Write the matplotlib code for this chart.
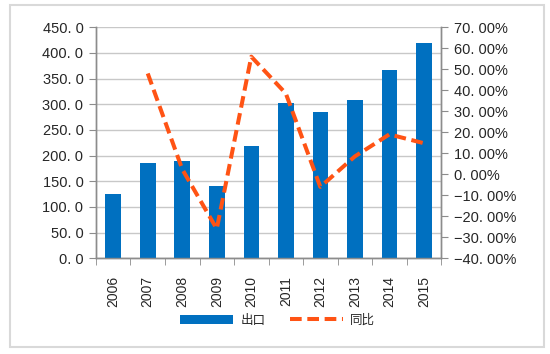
import numpy as np
import matplotlib
matplotlib.use('Agg')
import matplotlib.pyplot as plt
from matplotlib.patches import Patch, Rectangle
from matplotlib.lines import Line2D

plt.rcParams['font.family'] = ['Liberation Sans', 'Noto Sans CJK SC', 'DejaVu Sans']

years = ['2006', '2007', '2008', '2009', '2010', '2011', '2012', '2013', '2014', '2015']
export = [125, 185, 189.5, 140, 218, 302, 284, 308, 366, 420]
yoy = [np.nan, 48, 2.4, -26, 56, 38.5, -6, 8.5, 19, 14.8]
left_ticks = [0, 50, 100, 150, 200, 250, 300, 350, 400, 450]
right_ticks = [-40, -30, -20, -10, 0, 10, 20, 30, 40, 50, 60, 70]

blue = '#0070C0'
orange = '#FF5314'
txt = '#262626'
grid = '#C8C8C8'

fig = plt.figure(figsize=(5.5, 3.54), dpi=100)
ax = fig.add_axes([0.1745, 0.2703, 0.6275, 0.6527])
ax2 = ax.twinx()

x = np.arange(len(years))
ax.bar(x, export, width=0.45, color=blue, zorder=3)
ax2.plot(x, yoy, color=orange, lw=2.9, linestyle=(0, (2.9, 1.4)), zorder=4)

ax.set_xlim(-0.5, len(years) - 0.5)
ax.set_ylim(0, 450)
ax2.set_ylim(-40, 70)

ax.set_yticks(left_ticks)
ax.set_yticklabels([f'{v:.1f}'.replace('.', '. ') for v in left_ticks], fontsize=10.5, color=txt)
ax2.set_yticks(right_ticks)
ax2.set_yticklabels([f'{v:.2f}%'.replace('.', '. ').replace('-', '\u2212') for v in right_ticks],
                    fontsize=10.5, color=txt)

ax.set_xticks(x)
ax.set_xticklabels(years, rotation=90, fontsize=10, color=txt)
ax.tick_params(axis='x', length=0, pad=13)
ax.set_xticks(np.arange(-0.5, len(years), 1), minor=True)
ax.tick_params(axis='x', which='minor', length=5, color='#8C8C8C', direction='out')
ax.tick_params(axis='y', length=5, color='#8C8C8C', direction='out', pad=4)
ax2.tick_params(axis='y', length=5, color='#8C8C8C', direction='out', pad=4)

ax.yaxis.grid(True, color=grid, lw=1, zorder=0)
ax.set_axisbelow(True)
for a in (ax, ax2):
    a.spines['top'].set_visible(False)
    for s in ('left', 'right', 'bottom'):
        a.spines[s].set_color('#8C8C8C')
        a.spines[s].set_linewidth(1)

handles = [Patch(facecolor=blue, edgecolor='none'),
           Line2D([0], [0], color=orange, lw=2.9, linestyle=(0, (2.9, 1.4)))]
fig.legend(handles, ['出口', '同比'], loc='center', bbox_to_anchor=(0.505, 0.095), ncol=2,
           frameon=False, fontsize=9, handlelength=4.2, columnspacing=2.0, handletextpad=0.6,
           labelcolor=txt)

fig.patches.append(Rectangle((10 / 550, 7 / 354), 534 / 550, 342 / 354, transform=fig.transFigure,
                             fill=False, edgecolor='#D9D9D9', lw=1.5))

fig.savefig('out.png', dpi=100)
